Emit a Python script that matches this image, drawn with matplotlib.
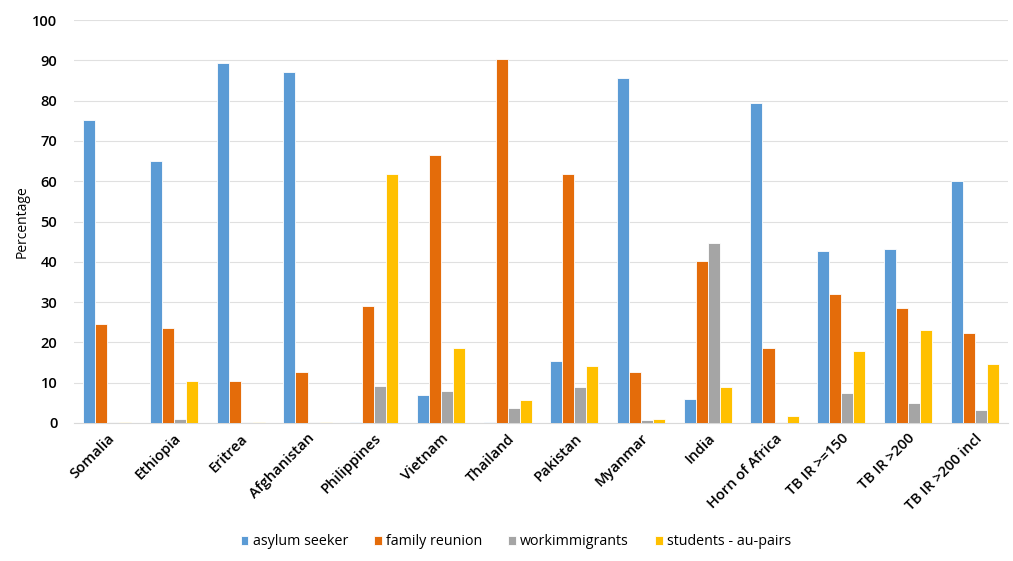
import numpy as np
import matplotlib.pyplot as plt

plt.rcParams['font.family'] = ['Open Sans', 'DejaVu Sans']

countries = ["Somalia", "Ethiopia", "Eritrea", "Afghanistan", "Philippines",
             "Vietnam", "Thailand", "Pakistan", "Myanmar", "India",
             "Horn of Africa", "TB IR >=150", "TB IR >200", "TB IR >200 incl"]

asylum = [75.2, 65.0, 89.4, 87.0, 0.3, 7.0, 0.3, 15.4, 85.7, 6.0, 79.5, 42.6, 43.3, 60.0]
family = [24.6, 23.5, 10.5, 12.6, 29.0, 66.4, 90.3, 61.7, 12.6, 40.3, 18.6, 32.0, 28.5, 22.3]
work = [0.3, 1.0, 0.3, 0.3, 9.2, 7.9, 3.8, 9.0, 0.7, 44.7, 0.3, 7.5, 5.0, 3.2]
students = [0.3, 10.3, 0.3, 0.3, 61.7, 18.6, 5.8, 14.1, 1.1, 9.0, 1.7, 17.8, 23.1, 14.6]

series = [
    ("asylum seeker", asylum, "#5B9BD5"),
    ("family reunion", family, "#E46C0A"),
    ("workimmigrants", work, "#A5A5A5"),
    ("students - au-pairs", students, "#FFC000"),
]

fig = plt.figure(figsize=(10.13, 5.61), dpi=100)
ax = fig.add_axes([74 / 1013, 1 - 423 / 561, 934 / 1013, 403 / 561])

x = np.arange(len(countries))
step = 0.18
for i, (name, vals, col) in enumerate(series):
    ax.bar(x + (i - 1.5) * step, vals, width=step, color=col,
           edgecolor="white", linewidth=0.6, label=name, zorder=3)

ax.set_xlim(-0.5, len(countries) - 0.5)
ax.set_ylim(0, 100)
ax.set_yticks(range(0, 101, 10))
ax.grid(axis="y", color="#E0E0E0", linewidth=0.8, zorder=0)
for s in ["top", "right", "left"]:
    ax.spines[s].set_visible(False)
ax.spines["bottom"].set_color("#D9D9D9")
ax.tick_params(axis="both", length=0, labelsize=10.5)
ax.tick_params(axis="y", pad=12)
ax.tick_params(axis="x", pad=6)
ax.set_xticks(x)
ax.set_xticklabels(countries, rotation=45, ha="right", rotation_mode="anchor",
                   fontweight="semibold")
for lbl in ax.get_yticklabels():
    lbl.set_fontweight("semibold")
ax.set_ylabel("Percentage", fontsize=10, labelpad=2)

ax.legend(loc="center", bbox_to_anchor=(0.473, -0.295), ncol=4, frameon=False,
          fontsize=10.3, handlelength=0.55, handleheight=0.55, handletextpad=0.3,
          columnspacing=1.8)

fig.savefig("out.png", dpi=100)
